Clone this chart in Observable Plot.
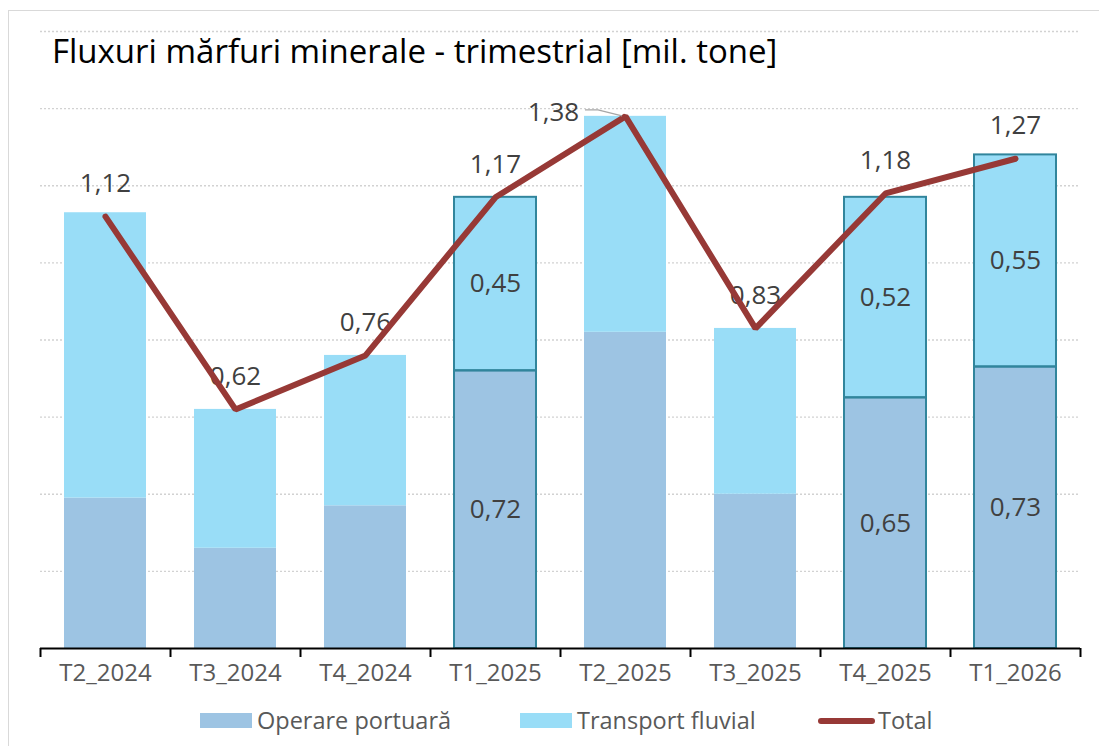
<!DOCTYPE html>
<html><head><meta charset="utf-8">
<script src="https://cdn.jsdelivr.net/npm/d3@7"></script>
<script src="https://cdn.jsdelivr.net/npm/@observablehq/plot@0.6"></script>
<style>
html,body{margin:0;padding:0;background:#fff;}
#wrap{position:relative;width:1099px;height:746px;overflow:hidden;font-family:"Open Sans",sans-serif;}
#frame{position:absolute;left:8px;top:10px;width:1200px;height:900px;border:1.5px solid #d9d9d9;box-sizing:border-box;}
#chart{position:absolute;left:0;top:0;}
#title{position:absolute;left:52px;top:34px;font-size:33px;line-height:1;color:#000;white-space:nowrap;}
.sw{position:absolute;}
.lt{position:absolute;font-size:23.5px;line-height:1;color:#595959;white-space:nowrap;}
</style></head>
<body>
<div id="wrap">
  <div id="frame"></div>
  <div id="chart"></div>
  <div id="title">Fluxuri mărfuri minerale - trimestrial [mil. tone]</div>
  <div id="legend"></div>
</div>
<script>
// ---- data ----
const quarters = ["T2_2024","T3_2024","T4_2024","T1_2025","T2_2025","T3_2025","T4_2025","T1_2026"];
const operare  = [0.39, 0.26, 0.37, 0.72, 0.82, 0.40, 0.65, 0.73];
const fluvial  = [0.74, 0.36, 0.39, 0.45, 0.56, 0.43, 0.52, 0.55];
const totals   = [1.12, 0.62, 0.76, 1.17, 1.38, 0.83, 1.18, 1.27];
const seriesNames = ["Operare portuară", "Transport fluvial", "Total"];
const labeledQuarters = ["T1_2025", "T4_2025", "T1_2026"];

// ---- style ----
const colors = {op: "#9dc4e3", fl: "#99ddf7", line: "#973936", outline: "#31859c"};
const fmt = v => d3.format(".2f")(v).replace(".", ",");

const rows = quarters.flatMap((q, i) => [
  {q, s: seriesNames[0], v: operare[i]},
  {q, s: seriesNames[1], v: fluvial[i]}
]);
const totalRows = quarters.map((q, i) => ({q, v: totals[i]}));
const labeledRows = rows.filter(d => labeledQuarters.includes(d.q));
const shiftedLabel = "T2_2025";

const W = 1099, H = 700, mL = 40, mR = 19, mT = 31, mB = 52;
const step = (W - mL - mR) / quarters.length;

const plot = Plot.plot({
  width: W, height: H, marginLeft: mL, marginRight: mR, marginTop: mT, marginBottom: mB,
  style: {fontFamily: '"Open Sans", sans-serif', background: "transparent", overflow: "visible"},
  x: {domain: quarters, paddingInner: 0.37, paddingOuter: 0.185, axis: null},
  y: {domain: [0, 1.6], axis: null},
  color: {domain: seriesNames.slice(0, 2), range: [colors.op, colors.fl]},
  marks: [
    Plot.ruleY(d3.ticks(0, 1.6, 8).filter(d => d > 0), {stroke: "#d2d2d2", strokeWidth: 1.3, strokeDasharray: "2,2"}),
    Plot.barY(rows, Plot.stackY({x: "q", y: "v", fill: "s"})),
    Plot.barY(labeledRows, Plot.stackY({x: "q", y: "v", fill: "none", stroke: colors.outline, strokeWidth: 2})),
    Plot.text(labeledRows, Plot.stackY({x: "q", y: "v", text: d => fmt(d.v), fontSize: 26, fill: "#404040"})),
    Plot.ruleY([0], {stroke: "#000", strokeWidth: 2}),
    Plot.ruleX(quarters, {x: d => d, dx: -step / 2, y1: 0, y2: 0, insetBottom: -9, stroke: "#000", strokeWidth: 2}),
    Plot.ruleX(quarters.slice(-1), {x: d => d, dx: step / 2, y1: 0, y2: 0, insetBottom: -9, stroke: "#000", strokeWidth: 2}),
    Plot.text(quarters, {x: d => d, frameAnchor: "bottom", dy: 32, fontSize: 24, fill: "#595959"}),
    Plot.text(totalRows.filter(d => d.q !== shiftedLabel), {x: "q", y: "v", text: d => fmt(d.v), dy: -33, fontSize: 26, fill: "#404040"}),
    Plot.text(totalRows.filter(d => d.q === shiftedLabel), {x: "q", y: "v", text: d => fmt(d.v), dx: -72, dy: -4, fontSize: 26, fill: "#404040"}),
    Plot.line(totalRows, {x: "q", y: "v", stroke: colors.line, strokeWidth: 6, strokeLinecap: "round", strokeLinejoin: "miter"})
  ]
});

// leader line for the shifted label, positioned with the plot's own scales
const xs = plot.scale("x"), ys = plot.scale("y");
const sIdx = quarters.indexOf(shiftedLabel);
const cx = xs.apply(shiftedLabel) + xs.bandwidth / 2, cy = ys.apply(totals[sIdx]);
d3.select(plot).append("path")
  .attr("d", `M${cx - 40},${cy - 6}L${cx - 27},${cy - 6}L${cx - 3},${cy}`)
  .attr("fill", "none").attr("stroke", "#a6a6a6").attr("stroke-width", 1.3);

document.getElementById("chart").appendChild(plot);

// legend
const legendLayout = [
  {sw: 200, tx: 257, kind: "box", color: colors.op},
  {sw: 520, tx: 577, kind: "box", color: colors.fl},
  {sw: 818, tx: 878, kind: "line", color: colors.line}
];
const leg = document.getElementById("legend");
seriesNames.forEach((name, i) => {
  const L = legendLayout[i];
  const s = document.createElement("div");
  s.className = "sw";
  if (L.kind === "box") {
    Object.assign(s.style, {left: L.sw + "px", top: "713px", width: "52px", height: "15px", background: L.color});
  } else {
    Object.assign(s.style, {left: L.sw + "px", top: "718px", width: "57px", height: "6px", background: L.color, borderRadius: "3px"});
  }
  leg.appendChild(s);
  const t = document.createElement("div");
  t.className = "lt";
  t.textContent = name;
  Object.assign(t.style, {left: L.tx + "px", top: "709px"});
  leg.appendChild(t);
});
</script>
</body></html>
